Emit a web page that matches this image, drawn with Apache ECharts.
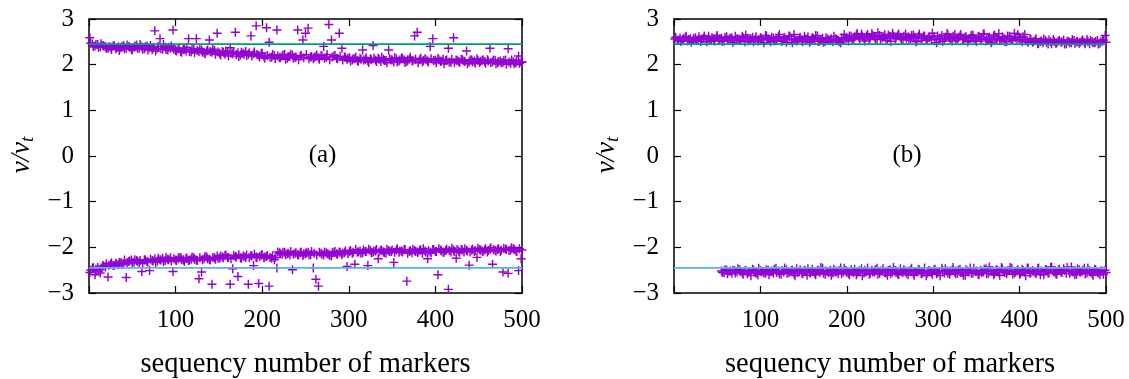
<!DOCTYPE html>
<html>
<head>
<meta charset="utf-8">
<script src="https://cdn.jsdelivr.net/npm/echarts@6/dist/echarts.min.js"></script>
<style>
html,body{margin:0;padding:0;background:#fff;}
#chart{width:1129px;height:379px;}
</style>
</head>
<body>
<div id="chart"></div>
<script>
// ---- data ----
const xTicks = [100, 200, 300, 400, 500];
const yTicks = [3, 2, 1, 0, -1, -2, -3];
const panelLabels = ['(a)', '(b)'];
const xTitle = 'sequency number of markers';
const levelTop = 2.45;
const levelBottom = -2.45;

// panel (a), upper band, markers 1,4,7,...,499
const aUpper = [2.59,2.45,2.41,2.44,2.39,2.42,2.40,2.36,2.38,2.41,2.35,2.39,2.37,2.42,2.36,2.40,2.34,2.38,2.43,2.36,
2.39,2.35,2.41,2.37,2.33,2.74,2.36,2.57,2.34,2.38,2.32,2.36,2.76,2.31,2.35,2.29,2.33,2.30,2.57,2.28,
2.34,2.57,2.29,2.32,2.26,2.30,2.54,2.27,2.31,2.69,2.25,2.29,2.23,2.27,2.37,2.24,2.71,2.26,2.21,2.25,
2.29,2.22,2.63,2.24,2.85,2.20,2.25,2.18,2.81,2.49,2.16,2.20,2.76,2.15,2.19,2.22,2.14,2.18,2.21,2.16,
2.76,2.19,2.54,2.69,2.80,2.17,2.13,2.18,2.15,2.20,2.40,2.16,2.88,2.54,2.19,2.14,2.69,2.36,2.17,2.12,
2.15,2.10,2.13,2.09,2.14,2.32,2.11,2.08,2.13,2.42,2.10,2.14,2.07,2.12,2.09,2.32,2.11,2.06,2.13,2.08,
2.15,2.10,2.07,2.12,2.09,2.63,2.71,2.11,2.06,2.13,2.08,2.40,2.57,2.10,2.14,2.07,2.12,2.09,2.36,2.05,
2.59,2.10,2.07,2.12,2.08,2.30,2.06,2.11,2.08,2.13,2.05,2.09,2.07,2.11,2.36,2.06,2.09,2.04,2.08,2.05,
2.10,2.35,2.03,2.07,2.04,2.19,2.06];
// panel (a), upper band, markers 2,5,8,...,500
const aUpper2 = [2.47,2.40,2.44,2.38,2.46,2.41,2.36,2.39,2.33,2.42,
2.37,2.31,2.40,2.35,2.43,2.38,2.32,2.41,2.36,2.44,
2.34,2.39,2.32,2.42,2.37,2.30,2.40,2.35,2.44,2.33,
2.38,2.41,2.34,2.30,2.36,2.27,2.34,2.38,2.29,2.33,
2.26,2.31,2.35,2.28,2.24,2.32,2.29,2.34,2.23,2.28,
2.21,2.27,2.30,2.19,2.25,2.28,2.22,2.18,2.27,2.23,
2.20,2.26,2.19,2.28,2.22,2.17,2.25,2.14,2.20,2.16,
2.22,2.13,2.19,2.15,2.21,2.12,2.18,2.23,2.14,2.17,
2.11,2.20,2.15,2.22,2.13,2.18,2.16,2.21,2.12,2.19,
2.14,2.22,2.11,2.17,2.20,2.13,2.18,2.10,2.16,2.14,
2.08,2.13,2.16,2.07,2.12,2.10,2.15,2.05,2.11,2.14,
2.07,2.12,2.16,2.09,2.04,2.13,2.10,2.15,2.06,2.11,
2.13,2.05,2.10,2.16,2.08,2.12,2.04,2.14,2.09,2.11,
2.06,2.13,2.09,2.04,2.11,2.08,2.02,2.10,2.06,2.12,
2.04,2.09,2.05,2.11,2.07,2.02,2.10,2.06,2.03,2.09,
2.07,2.11,2.03,2.08,2.05,2.10,2.02,2.07,2.04,2.09,
2.01,2.06,2.10,2.02,2.08,2.03,2.06];
// panel (a), lower band, markers 1,4,7,...,499
const aLower = [-2.55,-2.46,-2.60,-2.44,-2.56,-2.40,-2.43,-2.65,-2.37,-2.40,-2.35,-2.38,-2.33,-2.36,-2.66,-2.31,-2.28,-2.32,-2.29,-2.33,
-2.53,-2.27,-2.31,-2.51,-2.29,-2.25,-2.30,-2.27,-2.24,-2.29,-2.26,-2.23,-2.53,-2.28,-2.25,-2.22,-2.27,-2.24,-2.29,-2.26,
-2.23,-2.28,-2.69,-2.54,-2.25,-2.21,-2.26,-2.81,-2.23,-2.19,-2.24,-2.21,-2.18,-2.22,-2.81,-2.47,-2.20,-2.64,-2.23,-2.19,
-2.22,-2.81,-2.18,-2.40,-2.21,-2.79,-2.17,-2.23,-2.20,-2.85,-2.24,-2.27,-2.45,-2.12,-2.15,-2.11,-2.14,-2.17,-2.49,-2.13,
-2.16,-2.12,-2.18,-2.14,-2.11,-2.16,-2.45,-2.70,-2.85,-2.13,-2.17,-2.12,-2.15,-2.19,-2.11,-2.14,-2.10,-2.16,-2.12,-2.42,
-2.09,-2.13,-2.37,-2.10,-2.08,-2.12,-2.09,-2.40,-2.07,-2.11,-2.08,-2.25,-2.06,-2.10,-2.13,-2.07,-2.09,-2.33,-2.06,-2.11,
-2.08,-2.05,-2.74,-2.09,-2.12,-2.07,-2.10,-2.06,-2.13,-2.08,-2.25,-2.10,-2.05,-2.09,-2.60,-2.06,-2.11,-2.07,-2.92,-2.10,
-2.06,-2.24,-2.08,-2.05,-2.10,-2.07,-2.39,-2.06,-2.09,-2.22,-2.05,-2.08,-2.06,-2.10,-2.04,-2.37,-2.07,-2.05,-2.09,-2.54,
-2.04,-2.57,-2.06,-2.03,-2.08,-2.51,-2.25];
// panel (a), lower band, markers 2,5,8,...,500
const aLower2 = [-2.50,-2.44,-2.48,-2.52,-2.45,-2.41,-2.36,-2.39,-2.34,-2.40,
-2.37,-2.33,-2.38,-2.28,-2.33,-2.30,-2.34,-2.27,-2.31,-2.29,
-2.35,-2.28,-2.32,-2.26,-2.30,-2.33,-2.24,-2.28,-2.31,-2.22,
-2.27,-2.30,-2.25,-2.29,-2.22,-2.27,-2.31,-2.24,-2.28,-2.21,
-2.26,-2.29,-2.23,-2.27,-2.20,-2.25,-2.28,-2.22,-2.26,-2.24,
-2.19,-2.23,-2.17,-2.22,-2.25,-2.18,-2.21,-2.16,-2.24,-2.20,
-2.17,-2.22,-2.19,-2.15,-2.23,-2.20,-2.16,-2.21,-2.18,-2.22,
-2.19,-2.23,-2.10,-2.14,-2.11,-2.16,-2.13,-2.09,-2.15,-2.12,
-2.17,-2.10,-2.14,-2.12,-2.16,-2.09,-2.13,-2.17,-2.11,-2.15,
-2.10,-2.14,-2.18,-2.12,-2.09,-2.15,-2.11,-2.13,-2.08,-2.14,
-2.07,-2.11,-2.05,-2.10,-2.13,-2.06,-2.09,-2.04,-2.12,-2.08,
-2.05,-2.10,-2.07,-2.12,-2.04,-2.09,-2.06,-2.11,-2.03,-2.08,
-2.10,-2.05,-2.13,-2.07,-2.04,-2.09,-2.11,-2.06,-2.03,-2.10,
-2.07,-2.12,-2.05,-2.09,-2.03,-2.08,-2.11,-2.04,-2.07,-2.02,
-2.09,-2.05,-2.11,-2.06,-2.03,-2.08,-2.10,-2.04,-2.07,-2.02,
-2.06,-2.09,-2.03,-2.07,-2.01,-2.05,-2.08,-2.03,-2.06,-2.02,
-2.04,-2.07,-2.01,-2.05,-2.09,-2.03,-2.06];
// panel (b), upper band, markers 1,4,7,...,499
const bUpper = [2.56,2.53,2.58,2.55,2.60,2.52,2.57,2.54,2.59,2.55,2.51,2.58,2.56,2.62,2.53,2.57,2.60,2.54,2.58,2.52,
2.61,2.56,2.59,2.53,2.57,2.55,2.62,2.50,2.58,2.54,2.60,2.56,2.52,2.59,2.55,2.64,2.57,2.50,2.58,2.54,
2.61,2.53,2.57,2.49,2.63,2.55,2.66,2.52,2.58,2.54,2.62,2.56,2.49,2.59,2.55,2.63,2.52,2.58,2.51,2.56,
2.54,2.50,2.57,2.53,2.48,2.55,2.59,2.52,2.62,2.57,2.65,2.60,2.67,2.58,2.63,2.55,2.68,2.61,2.57,2.64,
2.59,2.66,2.53,2.62,2.69,2.57,2.64,2.60,2.55,2.67,2.61,2.58,2.65,2.50,2.62,2.57,2.63,2.53,2.59,2.55,
2.61,2.48,2.57,2.64,2.54,2.68,2.59,2.52,2.66,2.57,2.63,2.55,2.60,2.50,2.58,2.65,2.54,2.61,2.56,2.67,
2.52,2.59,2.48,2.63,2.55,2.68,2.53,2.58,2.51,2.62,2.56,2.69,2.54,2.60,2.50,2.66,2.52,2.57,2.49,2.54,
2.46,2.51,2.48,2.53,2.45,2.50,2.55,2.47,2.52,2.49,2.54,2.46,2.51,2.48,2.53,2.50,2.47,2.52,2.49,2.55,
2.46,2.51,2.48,2.53,2.47,2.52,2.64];
// panel (b), upper band, markers 2,5,8,...,500
const bUpper2 = [2.60,2.54,2.51,2.57,2.62,2.55,2.49,2.58,2.53,2.61,
2.56,2.63,2.50,2.55,2.59,2.52,2.64,2.57,2.51,2.60,
2.54,2.58,2.49,2.62,2.56,2.53,2.59,2.65,2.52,2.57,
2.50,2.61,2.55,2.58,2.48,2.63,2.54,2.60,2.52,2.57,
2.66,2.51,2.59,2.55,2.62,2.48,2.57,2.53,2.60,2.50,
2.56,2.61,2.52,2.58,2.64,2.51,2.55,2.49,2.59,2.53,
2.57,2.62,2.55,2.50,2.59,2.66,2.58,2.63,2.54,2.61,
2.68,2.56,2.62,2.52,2.66,2.59,2.64,2.57,2.70,2.55,
2.61,2.58,2.65,2.51,2.63,2.59,2.67,2.56,2.62,2.58,
2.54,2.64,2.60,2.52,2.67,2.58,2.62,2.56,2.61,2.69,
2.55,2.63,2.58,2.51,2.60,2.65,2.56,2.62,2.53,2.59,
2.66,2.57,2.61,2.53,2.64,2.58,2.51,2.62,2.56,2.67,
2.55,2.60,2.52,2.65,2.58,2.54,2.61,2.50,2.63,2.57,
2.53,2.59,2.66,2.55,2.61,2.52,2.49,2.55,2.51,2.57,
2.47,2.52,2.56,2.49,2.54,2.46,2.51,2.48,2.53,2.50,
2.45,2.52,2.48,2.55,2.47,2.51,2.49,2.54,2.46,2.50,
2.53,2.48,2.51,2.45,2.50,2.54,2.49];
// panel (b), lower band, markers 55,58,...,499
const bLower = [-2.52,-2.55,-2.50,-2.53,-2.57,-2.51,-2.54,-2.49,-2.56,-2.52,
-2.58,-2.53,-2.48,-2.55,-2.60,-2.51,-2.54,-2.57,-2.50,-2.53,
-2.56,-2.46,-2.52,-2.59,-2.54,-2.49,-2.55,-2.51,-2.58,-2.47,
-2.53,-2.56,-2.50,-2.61,-2.54,-2.48,-2.57,-2.52,-2.55,-2.46,
-2.59,-2.53,-2.50,-2.56,-2.52,-2.58,-2.45,-2.54,-2.51,-2.57,
-2.49,-2.55,-2.60,-2.52,-2.47,-2.56,-2.53,-2.59,-2.50,-2.54,
-2.46,-2.57,-2.52,-2.55,-2.61,-2.49,-2.54,-2.51,-2.58,-2.47,
-2.55,-2.52,-2.60,-2.50,-2.56,-2.53,-2.48,-2.57,-2.54,-2.62,
-2.51,-2.55,-2.49,-2.58,-2.53,-2.46,-2.56,-2.52,-2.59,-2.50,
-2.54,-2.57,-2.48,-2.55,-2.61,-2.52,-2.45,-2.56,-2.53,-2.59,
-2.50,-2.54,-2.47,-2.57,-2.52,-2.60,-2.49,-2.55,-2.44,-2.53,
-2.58,-2.51,-2.46,-2.56,-2.52,-2.59,-2.48,-2.54,-2.45,-2.57,
-2.51,-2.55,-2.47,-2.60,-2.53,-2.49,-2.56,-2.44,-2.52,-2.58,
-2.50,-2.54,-2.47,-2.57,-2.52,-2.43,-2.55,-2.59,-2.49,-2.53,
-2.46,-2.56,-2.51,-2.58,-2.48,-2.54,-2.60,-2.52,-2.50];
// panel (b), lower band, markers 56,59,...,500
const bLower2 = [-2.55,-2.49,-2.58,-2.52,-2.50,-2.56,-2.47,-2.53,-2.59,-2.51,
-2.54,-2.62,-2.50,-2.57,-2.46,-2.53,-2.56,-2.49,-2.60,-2.52,
-2.48,-2.55,-2.58,-2.51,-2.45,-2.57,-2.53,-2.50,-2.62,-2.55,
-2.49,-2.58,-2.52,-2.47,-2.56,-2.53,-2.60,-2.50,-2.44,-2.57,
-2.52,-2.55,-2.61,-2.48,-2.54,-2.51,-2.58,-2.46,-2.55,-2.60,
-2.53,-2.48,-2.56,-2.52,-2.62,-2.50,-2.45,-2.57,-2.54,-2.49,
-2.59,-2.52,-2.47,-2.56,-2.51,-2.58,-2.44,-2.55,-2.60,-2.53,
-2.49,-2.57,-2.52,-2.46,-2.61,-2.54,-2.50,-2.58,-2.45,-2.56,
-2.52,-2.59,-2.48,-2.55,-2.62,-2.51,-2.47,-2.57,-2.53,-2.44,
-2.58,-2.50,-2.55,-2.61,-2.49,-2.54,-2.57,-2.46,-2.52,-2.60,
-2.55,-2.48,-2.58,-2.43,-2.53,-2.57,-2.50,-2.61,-2.47,-2.55,
-2.52,-2.44,-2.59,-2.54,-2.49,-2.57,-2.51,-2.62,-2.46,-2.55,
-2.53,-2.58,-2.45,-2.52,-2.60,-2.49,-2.56,-2.43,-2.54,-2.59,
-2.48,-2.55,-2.51,-2.44,-2.57,-2.53,-2.60,-2.47,-2.55,-2.50,
-2.58,-2.45,-2.54,-2.61,-2.49,-2.56,-2.52,-2.59,-2.55];
const markerStep = 3;
const starts = {aUpper: 1, aUpper2: 2, aLower: 1, aLower2: 2, bUpper: 1, bUpper2: 2, bLower: 55, bLower2: 56};

// ---- build ----
const FONT = "'Liberation Serif','DejaVu Serif',serif";
const PURPLE = '#9400d3', GREEN = '#009e73', BLUE = '#56b4e9';
const PLUS = 'path://M0,4.2H10V5.8H0Z M4.2,0H5.8V10H4.2Z';
function pts(vals, start){ return vals.map((v,i)=>[start + i*markerStep, v]); }
const xMin = 0, xMax = 500;

const grids = [
  {left: 89, top: 19, width: 433, height: 274},
  {left: 674, top: 19, width: 432, height: 274}
];
const minus = s => String(s).replace('-', '\u2212');
const xAxes = [], yAxes = [];
grids.forEach((g, gi) => {
  const common = {gridIndex: gi, type: 'value', min: xMin, max: xMax, interval: 100,
    splitLine: {show: false},
    axisLine: {show: true, onZero: false, lineStyle: {color: '#000', width: 1.5}},
    axisTick: {show: true, inside: true, length: 7, lineStyle: {color: '#000', width: 1.2}}};
  xAxes.push(Object.assign({}, common, {position: 'bottom',
    axisLabel: {show: true, margin: 15, color: '#000', fontFamily: FONT, fontSize: 25,
      formatter: v => xTicks.indexOf(v) >= 0 ? String(v) : ''}}));
  xAxes.push(Object.assign({}, common, {position: 'top', axisLabel: {show: false}}));
  const ycommon = {gridIndex: gi, type: 'value', min: -3, max: 3, interval: 1,
    splitLine: {show: false},
    axisLine: {show: true, onZero: false, lineStyle: {color: '#000', width: 1.5}},
    axisTick: {show: true, inside: true, length: 7, lineStyle: {color: '#000', width: 1.2}}};
  yAxes.push(Object.assign({}, ycommon, {position: 'left',
    axisLabel: {show: true, margin: 15, color: '#000', fontFamily: FONT, fontSize: 25,
      formatter: v => yTicks.indexOf(v) >= 0 ? minus(v) : ''}}));
  yAxes.push(Object.assign({}, ycommon, {position: 'right', axisLabel: {show: false}}));
});

function scatter(gi, data){
  return {type: 'scatter', xAxisIndex: gi*2, yAxisIndex: gi*2, data: data,
    symbol: PLUS, symbolSize: 9, itemStyle: {color: PURPLE, opacity: 1}, silent: true, z: 2};
}
function level(gi, y, color){
  return {type: 'line', xAxisIndex: gi*2, yAxisIndex: gi*2, data: [[xMin, y], [xMax, y]],
    symbol: 'none', lineStyle: {color: color, width: 1.6}, silent: true, z: 3};
}
const series = [
  scatter(0, pts(aUpper, starts.aUpper).concat(pts(aUpper2, starts.aUpper2))),
  scatter(0, pts(aLower, starts.aLower).concat(pts(aLower2, starts.aLower2))),
  level(0, levelTop, GREEN), level(0, levelBottom, BLUE),
  scatter(1, pts(bUpper, starts.bUpper).concat(pts(bUpper2, starts.bUpper2))),
  scatter(1, pts(bLower, starts.bLower).concat(pts(bLower2, starts.bLower2))),
  level(1, levelTop, GREEN), level(1, levelBottom, BLUE)
];

const graphic = [];
grids.forEach((g, gi) => {
  const cx = g.left + g.width/2;
  graphic.push({type: 'text', x: cx, y: 365, style: {text: xTitle, font: '28.5px ' + FONT,
    fill: '#000', align: 'center', verticalAlign: 'middle'}});
  graphic.push({type: 'text', x: cx + 17, y: 155, style: {text: panelLabels[gi], font: '25px ' + FONT,
    fill: '#000', align: 'center', verticalAlign: 'middle'}});
  graphic.push({type: 'text', x: g.left - 67, y: 155, rotation: Math.PI/2,
    style: {text: '{v|v/v}{s|t}', align: 'center', verticalAlign: 'middle',
      rich: {v: {fontFamily: FONT, fontStyle: 'italic', fontSize: 27, fill: '#000', color: '#000'},
             s: {fontFamily: FONT, fontStyle: 'italic', fontSize: 19, fill: '#000', color: '#000', padding: [12, 0, 0, 0]}}}});
});

const chart = echarts.init(document.getElementById('chart'), null, {renderer: 'canvas'});
chart.setOption({
  animation: false,
  backgroundColor: '#fff',
  grid: grids,
  xAxis: xAxes,
  yAxis: yAxes,
  series: series,
  graphic: graphic
});
</script>
</body>
</html>
